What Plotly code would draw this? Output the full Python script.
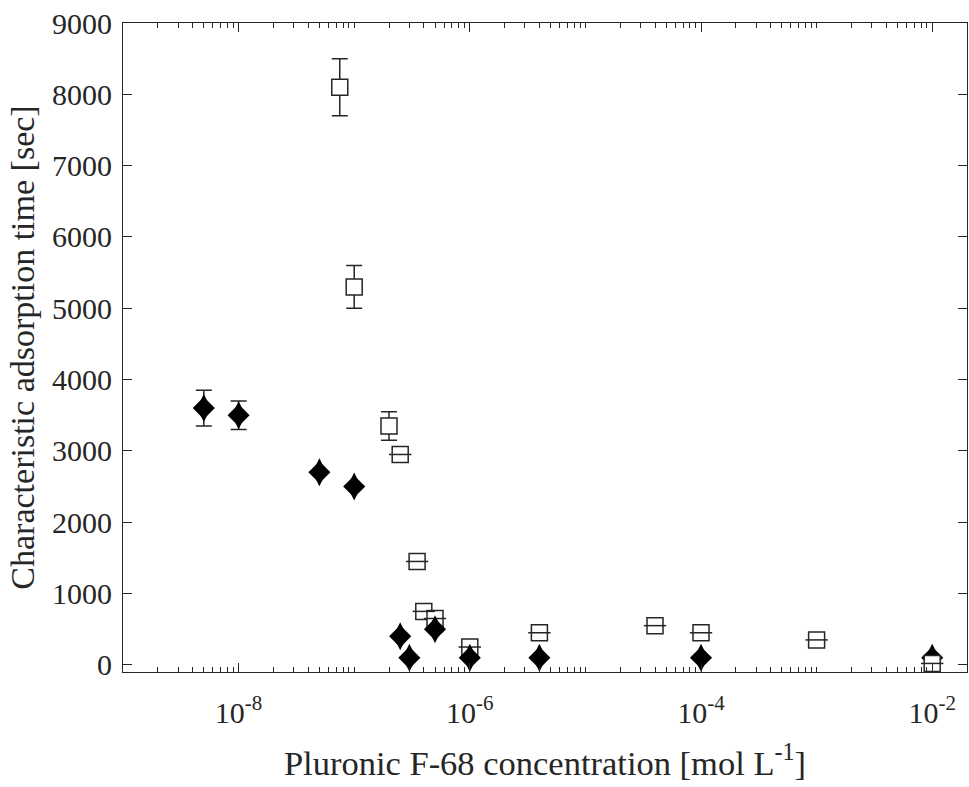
import numpy as np
import plotly.graph_objects as go

# Diamonds (filled black)
dia_x = [5e-9, 1e-8, 5e-8, 1e-7, 2.5e-7, 3e-7, 5e-7, 1e-6, 4e-6, 1e-4, 1e-2]
dia_y = [3600, 3500, 2700, 2500, 400, 100, 500, 100, 100, 100, 100]
dia_err = [250, 200, 0, 0, 0, 0, 0, 0, 0, 0, 0]

# Squares with visible error bars
sqA_x = [7.5e-8, 1e-7, 2e-7]
sqA_y = [8100, 5300, 3350]
sqA_err = [400, 300, 200]

# Squares with error smaller than the marker
sqB_x = [2.5e-7, 3.5e-7, 4e-7, 5e-7, 1e-6, 4e-6, 4e-5, 1e-4, 1e-3]
sqB_y = [2950, 1450, 750, 650, 250, 450, 550, 450, 350]

sqC_x = [1e-2]
sqC_y = [20]

x_tickvals = [1e-8, 1e-6, 1e-4, 1e-2]
x_ticktext = ["10<sup>-8</sup>", "10<sup>-6</sup>", "10<sup>-4</sup>", "10<sup>-2</sup>"]
y_tickvals = [0, 1000, 2000, 3000, 4000, 5000, 6000, 7000, 8000, 9000]

minor_vals = []
for e in range(-9, -1):
    for m in range(1, 10):
        v = m * 10.0 ** e
        if v in x_tickvals or v > 0.02:
            continue
        minor_vals.append(v)

C = "#262626"
FONT = "Liberation Serif, Times New Roman, serif"

fig = go.Figure()
sq_marker = dict(symbol="square", size=16, color="white", line=dict(color=C, width=1.5))
cap_marker = dict(symbol="line-ew", size=16, line=dict(color=C, width=1.5))

fig.add_trace(go.Scatter(
    x=sqA_x, y=sqA_y, mode="markers", marker=sq_marker,
    error_y=dict(type="data", array=sqA_err, color=C, thickness=1.5, width=8),
))
fig.add_trace(go.Scatter(x=sqB_x, y=sqB_y, mode="markers", marker=sq_marker))
fig.add_trace(go.Scatter(x=sqB_x, y=sqB_y, mode="markers", marker=cap_marker))
fig.add_trace(go.Scatter(
    x=dia_x, y=dia_y, mode="markers",
    marker=dict(symbol="diamond", size=17, color="black", line=dict(width=0)),
    error_y=dict(type="data", array=dia_err, color=C, thickness=1.5, width=8),
))
fig.add_trace(go.Scatter(
    x=dia_x, y=dia_y, mode="markers",
    marker=dict(symbol="diamond-tall", size=20, color="black", line=dict(width=0)),
))
fig.add_trace(go.Scatter(x=sqC_x, y=sqC_y, mode="markers", marker=sq_marker))
fig.add_trace(go.Scatter(x=sqC_x, y=sqC_y, mode="markers", marker=cap_marker))

fig.update_layout(
    width=969, height=787,
    paper_bgcolor="white", plot_bgcolor="white",
    showlegend=False,
    margin=dict(l=123, r=2, t=23, b=115),
    font=dict(family=FONT, size=30, color=C),
    xaxis=dict(
        type="log", range=[-9, np.log10(0.02)], automargin=False,
        tickmode="array", tickvals=x_tickvals, ticktext=x_ticktext,
        ticks="inside", ticklen=9, tickwidth=1, tickcolor=C,
        showline=True, linecolor=C, linewidth=1, mirror="ticks",
        showgrid=False, zeroline=False,
        minor=dict(tickmode="array", tickvals=minor_vals, ticks="inside",
                   ticklen=5, tickwidth=1, tickcolor=C, showgrid=False),
        ticklabelstandoff=14,
        title=dict(text="Pluronic F-68 concentration [mol L<sup>-1</sup>]",
                   font=dict(size=34.5), standoff=22),
    ),
    yaxis=dict(
        range=[-100, 9000], automargin=False,
        tickmode="array", tickvals=y_tickvals,
        ticks="inside", ticklen=9, tickwidth=1, tickcolor=C,
        showline=True, linecolor=C, linewidth=1, mirror="ticks",
        showgrid=False, zeroline=False,
        ticklabelstandoff=4,
        title=dict(text="Characteristic adsorption time [sec]",
                   font=dict(size=34), standoff=7),
    ),
)

fig.write_html("out.html", config={"displayModeBar": False},
               post_script="document.body.style.margin='0';")
